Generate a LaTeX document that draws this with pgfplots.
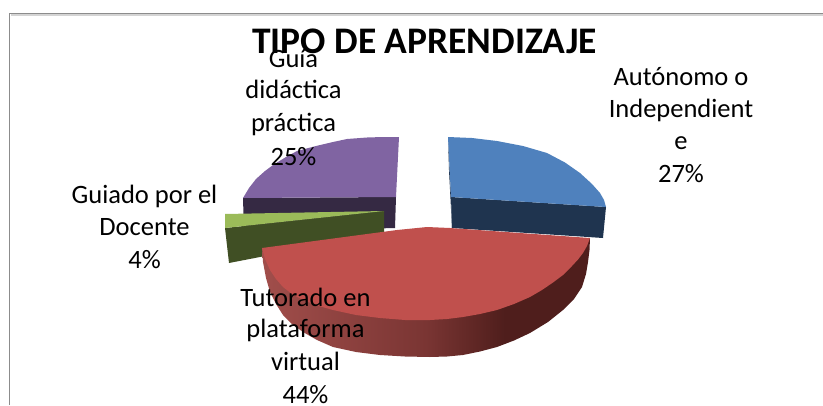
\documentclass[border=0pt]{standalone}
\usepackage{pgfplots}
\pgfplotsset{compat=1.18}
\usepackage{fontspec}
\setmainfont{Carlito}
\definecolor{frameg}{HTML}{8C8C8C}
\definecolor{frameh}{HTML}{D4D4D4}
\definecolor{bluetop}{HTML}{4F81BD}
\definecolor{blueside}{HTML}{1F344F}
\definecolor{redtop}{HTML}{C0504D}
\definecolor{purpletop}{HTML}{8064A2}
\definecolor{purpleside}{HTML}{352943}
\definecolor{greentop}{HTML}{9BBB59}
\definecolor{greenside}{HTML}{404F24}
\definecolor{rsa}{HTML}{A14E4B}
\definecolor{rsb}{HTML}{7A3533}
\definecolor{rsc}{HTML}{4F1E1C}
\pgfdeclarehorizontalshading{redside}{100bp}{
  color(0bp)=(rsa);
  color(25bp)=(rsa);
  color(50bp)=(rsb);
  color(62bp)=(rsc);
  color(75bp)=(rsc);
  color(100bp)=(rsc)}
\newcommand{\lab}[3]{\node[font=\fontsize{26.5}{26.5}\selectfont,anchor=base,inner sep=0pt] at (axis cs:#1,#2) {#3};}
\begin{document}
\begin{tikzpicture}
\useasboundingbox (0,0) rectangle (823pt,405pt);
\begin{axis}[
  at={(0,0)},anchor=south west,
  scale only axis,width=823pt,height=405pt,
  xmin=0,xmax=823,ymin=0,ymax=405,y dir=reverse,
  hide axis,clip=true]
% frame
\addplot[draw=frameh,line width=1.2pt] coordinates {(823,15)(11,15)};
\addplot[draw=frameg,line width=1.6pt] coordinates {(9.5,405) (9.5,13.5) (823,13.5)};
% purple side
\addplot[fill=purpleside,draw=none] coordinates {(243,198) (396,197) (395,228) (244,232)} -- cycle;
% purple top
\addplot[fill=purpletop,draw=none] coordinates {(243,198) (249,188) (256,179) (265,171) (273,165) (286,157) (297,151) (316,146) (333,142) (347,139) (367,137.5) (383,137) (399,137) (396,197)} -- cycle;
% blue side
\addplot[fill=blueside,draw=none] coordinates {(451,197) (606,207) (603,238) (452,228)} -- cycle;
\addplot[fill=blueside,draw=none] coordinates {(448,137) (451,197) (452,228) (449,170)} -- cycle;
% blue top
\addplot[fill=bluetop,draw=none] coordinates {(448,137) (472,138) (497,141) (523,146) (547,153) (565,162.5) (580,173) (592,184) (600,193) (604,200) (606,207) (451,197)} -- cycle;
% green side
\addplot[fill=greenside,draw=none] coordinates {(225,228) (384,211) (384,233) (229,263)} -- cycle;
% green top
\addplot[fill=greentop,draw=none] coordinates {(225,214) (384,211) (225,228)} -- cycle;
% red side
\addplot[shading=redside,draw=none] coordinates {(590,238) (589.5,250) (588,262) (586,274) (582,287) (574,299) (563,310) (548,322) (530,333) (514,340.5) (497,347) (480,351.5) (463,355) (447,356.5) (430,357) (405,356.5) (380,355) (356,352) (333,347) (317,340) (303,332) (292,324) (283,315) (276,304) (270,292) (266,278) (263,262) (262,248) (430,300)} -- cycle;
% red top
\addplot[fill=redtop,draw=none] coordinates {(262,248) (397,230) (427,227) (450,228) (590,238) (587,246) (583,253) (578,259.5) (572,266) (563,275) (553,282.5) (542,290) (530,297) (514,304) (497,310) (480,314) (463,317) (447,319) (430,320) (405,320) (380,318) (356,315) (333,310) (317,305.5) (303,300) (292,294) (283,287) (276,279) (270,270) (265,259)} -- cycle;
% labels
\node[font=\fontsize{37.5}{37.5}\selectfont\bfseries,anchor=base,inner sep=0pt] at (axis cs:424.5,53) {TIPO DE APRENDIZAJE};
\lab{681}{85}{Autónomo o}
\lab{681}{117}{Independient}
\lab{681}{149}{e}
\lab{681}{182}{27\%}
\lab{293.5}{67}{Guía}
\lab{293.5}{98.5}{didáctica}
\lab{293.5}{131}{práctica}
\lab{293.5}{165.5}{25\%}
\lab{144.5}{203}{Guiado por el}
\lab{144.5}{235}{Docente}
\lab{144.5}{268}{4\%}
\lab{305.5}{306}{Tutorado en}
\lab{305.5}{337.5}{plataforma}
\lab{305.5}{370}{virtual}
\lab{305.5}{403}{44\%}
\end{axis}
\end{tikzpicture}
\end{document}
